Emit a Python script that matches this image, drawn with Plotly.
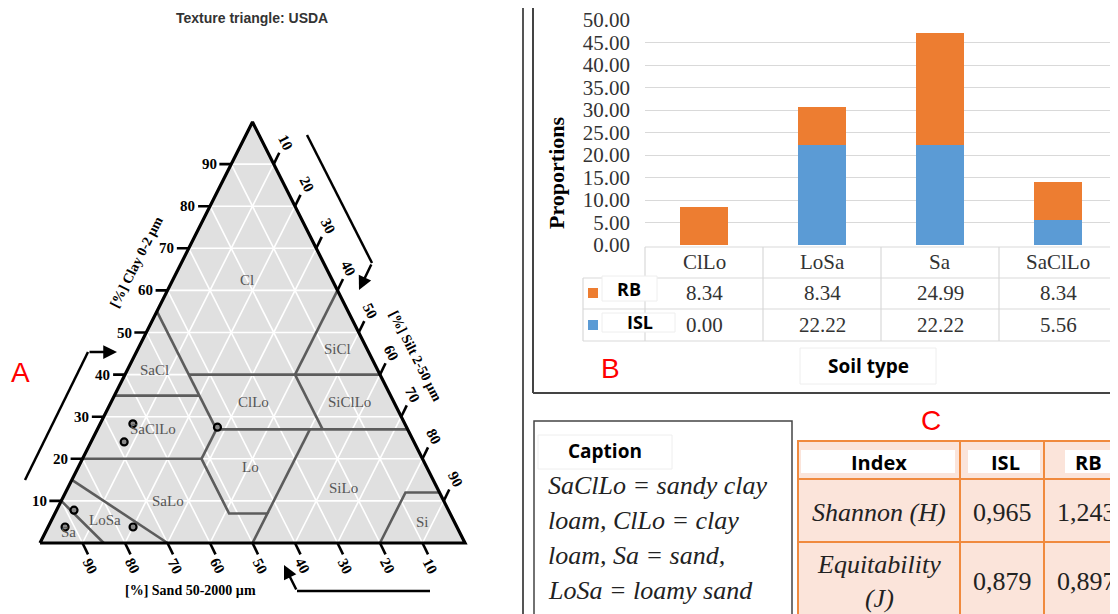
import plotly.graph_objects as go

W, H = 1118, 614
OFF = 8  # default page body margin of the exported html
SERIF = "Liberation Serif, Times New Roman, serif"
SANS = "Open Sans, Liberation Sans, Arial, sans-serif"
NARROW = "Liberation Sans Narrow, Arial Narrow, Liberation Sans, Arial, sans-serif"

# ---------------- Panel A data: USDA texture triangle ----------------
grid_values = [10, 20, 30, 40, 50, 60, 70, 80, 90]
class_names = ["Cl", "SiCl", "SaCl", "ClLo", "SiClLo", "SaClLo", "Lo", "SiLo", "SaLo", "LoSa", "Si", "Sa"]
class_clay = [62.5, 46.0, 41.0, 33.5, 33.5, 27.0, 18.0, 13.0, 10.0, 5.5, 5.0, 2.5]
class_sand = [20.0, 7.0, 52.5, 33.0, 10.5, 60.0, 41.5, 22.0, 65.0, 82.0, 7.5, 92.0]
sample_clay = [28.3, 24.0, 7.8, 3.8, 3.8, 27.5]
sample_sand = [64.0, 68.2, 88.1, 76.2, 92.2, 44.5]
boundary_clay = [[0, 10], [0, 15], [20, 20, 7, 7, 0], [7, 27], [20, 27], [35, 35],
                 [27, 55], [27, 27], [40, 40], [27, 40], [40, 60], [0, 12, 12]]
boundary_sand = [[85, 90], [70, 85], [80, 52, 52, 43, 50], [43, 23], [52, 45], [65, 45],
                 [45, 45], [45, 0], [45, 0], [20, 20], [20, 0], [20, 8, 0]]

# ---------------- Panel B data ----------------
soil_types = ["ClLo", "LoSa", "Sa", "SaClLo"]
rb_values = [8.34, 8.34, 24.99, 8.34]
isl_values = [0.00, 22.22, 22.22, 5.56]

# ---------------- Panel C data ----------------
index_names = ["Shannon (H)", "Equitability<br>(J)"]
isl_index = [0.965, 0.879]
rb_index = [1.243, 0.897]
caption_lines = ["SaClLo = sandy clay", "loam, ClLo = clay", "loam, Sa = sand,", "LoSa = loamy sand"]


def to_xy(clay, sand):
    silt = 100 - clay - sand
    return silt + clay / 2.0, clay


def fx(px):
    return (px - OFF) / W


def fy(py):
    return 1 - (py - OFF) / H


fig = go.Figure()

# ---- triangle fill ----
cx, cy = zip(*[to_xy(c, s) for c, s in [(0, 100), (0, 0), (100, 0), (0, 100)]])
fig.add_trace(go.Scatter(x=cx, y=cy, mode="lines", fill="toself", fillcolor="#e0e0e0",
                         line=dict(width=0), hoverinfo="skip", showlegend=False))

# ---- white grid ----
gx, gy = [], []
for v in grid_values:
    for a, b in [((v, 100 - v), (v, 0)), ((0, v), (100 - v, v)), ((0, 100 - v), (100 - v, 0))]:
        p0, p1 = to_xy(*a), to_xy(*b)
        gx += [p0[0], p1[0], None]
        gy += [p0[1], p1[1], None]
fig.add_trace(go.Scatter(x=gx, y=gy, mode="lines", line=dict(color="white", width=1.6),
                         hoverinfo="skip", showlegend=False))

# ---- class boundaries ----
bx, by = [], []
for cl, sa in zip(boundary_clay, boundary_sand):
    for c, s in zip(cl, sa):
        x, y = to_xy(c, s)
        bx.append(x)
        by.append(y)
    bx.append(None)
    by.append(None)
fig.add_trace(go.Scatter(x=bx, y=by, mode="lines", line=dict(color="#5c5c5c", width=2.6),
                         hoverinfo="skip", showlegend=False))

# ---- border ----
fig.add_trace(go.Scatter(x=cx, y=cy, mode="lines", line=dict(color="black", width=3.2),
                         hoverinfo="skip", showlegend=False))

# ---- ticks ----
tx, ty = [], []
for v in grid_values:
    x, y = to_xy(v, 100 - v)          # left edge (clay)
    tx += [x, x - 2.8, None]; ty += [y, y, None]
    x, y = to_xy(0, v)                # bottom edge (sand)
    tx += [x, x + 1.3, None]; ty += [y, y - 2.7, None]
    x, y = to_xy(100 - v, 0)          # right edge (silt)
    tx += [x, x + 1.3, None]; ty += [y, y + 2.7, None]
fig.add_trace(go.Scatter(x=tx, y=ty, mode="lines", line=dict(color="black", width=2.6),
                         hoverinfo="skip", showlegend=False))

# ---- samples ----
sx_, sy_ = zip(*[to_xy(c, s) for c, s in zip(sample_clay, sample_sand)])
fig.add_trace(go.Scatter(x=sx_, y=sy_, mode="markers",
                         marker=dict(size=7, color="#888888", line=dict(color="black", width=2.2)),
                         hoverinfo="skip", showlegend=False))

annotations = []
tick_font = dict(family=SERIF, size=15, color="black")
for v in grid_values:
    x, y = to_xy(v, 100 - v)
    annotations.append(dict(x=x - 3.0, y=y, xref="x", yref="y", text="<b>%d</b>" % v, showarrow=False,
                            xanchor="right", yanchor="middle", font=tick_font))
    x, y = to_xy(0, v)
    annotations.append(dict(x=x + 1.8, y=y - 5.4, xref="x", yref="y", text="<b>%d</b>" % v, showarrow=False,
                            textangle=63, font=tick_font))
    x, y = to_xy(100 - v, 0)
    annotations.append(dict(x=x + 2.7, y=y + 5.2, xref="x", yref="y", text="<b>%d</b>" % v, showarrow=False,
                            textangle=63, font=tick_font))
for name, c, s in zip(class_names, class_clay, class_sand):
    x, y = to_xy(c, s)
    annotations.append(dict(x=x, y=y, xref="x", yref="y", text=name, showarrow=False,
                            font=dict(family=SERIF, size=15, color="#555555")))

# ---------------- bar chart (panel B) ----------------
fig.add_trace(go.Bar(x=soil_types, y=isl_values, name="ISL", marker=dict(color="#5b9bd5", line=dict(width=0)),
                     width=0.4, xaxis="x2", yaxis="y2", showlegend=False))
fig.add_trace(go.Bar(x=soil_types, y=rb_values, name="RB", marker=dict(color="#ed7d31", line=dict(width=0)),
                     width=0.4, xaxis="x2", yaxis="y2", showlegend=False))

# dummy trace for the pixel overlay axis
fig.add_trace(go.Scatter(x=[None], y=[None], xaxis="x3", yaxis="y3", showlegend=False, hoverinfo="skip"))

shapes = []


def line(x0, y0, x1, y1, color, width):
    shapes.append(dict(type="line", x0=x0, y0=y0, x1=x1, y1=y1, xref="x3", yref="y3",
                       line=dict(color=color, width=width), layer="above"))


def rect(x0, y0, x1, y1, fill, color, width):
    shapes.append(dict(type="rect", x0=x0, y0=y0, x1=x1, y1=y1, xref="x3", yref="y3",
                       fillcolor=fill, line=dict(color=color, width=width), layer="above"))


def text(x, y, s, font, **kw):
    d = dict(x=x, y=y, xref="x3", yref="y3", text=s, showarrow=False, font=font)
    d.update(kw)
    annotations.append(d)


# panel borders
line(523, 0, 523, H + OFF, "#555555", 2)
line(533, 0, 533, 393, "#444444", 2)
line(533, 393, W + OFF, 393, "#444444", 2)

# data table under the bars
BAR_X0 = 645
col_w = 118
grid_c = "#d9d9d9"
line(BAR_X0, 247, W + OFF, 247, grid_c, 1.2)
for yy in (278, 309, 341):
    line(583, yy, W + OFF, yy, grid_c, 1.2)
line(583, 278, 583, 341, grid_c, 1.2)
for i in range(len(soil_types) + 1):
    xx = BAR_X0 + i * col_w
    line(xx, 247, xx, 341, grid_c, 1.2)
val_font = dict(family=SERIF, size=21, color="#333333")
for i, name in enumerate(soil_types):
    xc = BAR_X0 + (i + 0.5) * col_w
    text(xc, 262, name, val_font)
    text(xc, 293, "%.2f" % rb_values[i], val_font)
    text(xc, 325, "%.2f" % isl_values[i], val_font)
# legend keys
rect(588, 288, 598, 298, "#ed7d31", "#ed7d31", 0)
rect(588, 320, 598, 330, "#5b9bd5", "#5b9bd5", 0)
rect(602, 276, 657, 301, "white", "#eeeeee", 1)
rect(602, 313, 675, 332, "white", "#eeeeee", 1)
lab_font = dict(family=SANS, size=18, color="black")
text(629, 289, "<b>RB</b>", lab_font)
text(640, 322, "<b>ISL</b>", lab_font)
# axis titles
rect(800, 348, 936, 384, "white", "#eeeeee", 1)
text(868, 366, "<b>Soil type</b>", dict(family=SANS, size=19, color="black"))
text(556, 173, "<b>Proportions</b>", dict(family=SERIF, size=22, color="black"), textangle=-90)

# red panel letters
red = dict(family="Liberation Sans, Arial, sans-serif", size=28, color="#ff0000")
text(20, 372, "A", red)
text(610, 368, "B", red)
text(931, 420, "C", red)

# caption box
rect(534, 421, 792, 640, "rgba(0,0,0,0)", "#444444", 1.5)
rect(538, 435, 672, 469, "white", "#eeeeee", 1)
text(605, 451, "<b>Caption</b>", dict(family=SANS, size=19, color="black"))
for k, s in enumerate(caption_lines):
    text(546, 485 + 35 * k, "<i>%s</i>" % s, dict(family=SERIF, size=26, color="#222222"), xanchor="left")

# index table (panel C)
orange = "#f08a3e"
rect(798, 441, 1140, 640, "#fbe4da", orange, 2)
line(960, 441, 960, H + OFF, orange, 2)
line(1044, 441, 1044, H + OFF, orange, 2)
line(798, 479, W + OFF, 479, orange, 2)
line(798, 542, W + OFF, 542, orange, 2)
rect(801, 450, 955, 473, "white", "white", 0)
rect(968, 450, 1040, 473, "white", "white", 0)
rect(1065, 450, 1130, 473, "white", "white", 0)
hdr = dict(family=SANS, size=20, color="black")
text(879, 462, "<b>Index</b>", hdr)
text(1005, 462, "<b>ISL</b>", hdr)
text(1088, 462, "<b>RB</b>", hdr)
cell = dict(family=SERIF, size=26, color="#222222")
row_y = [512, 581]
for k in range(len(index_names)):
    text(879, row_y[k], "<i>%s</i>" % index_names[k], cell)
    text(1002, row_y[k], ("%.3f" % isl_index[k]).replace(".", ","), cell)
    text(1086, row_y[k], ("%.3f" % rb_index[k]).replace(".", ","), cell)

# arrows around the triangle
for path in ["M 25 480 L 88 352", "M 307 135 L 372 263", "M 430 591 L 297 591"]:
    shapes.append(dict(type="path", path=path, xref="x3", yref="y3",
                       line=dict(color="black", width=2.5), layer="above"))
for (x0, y0, x1, y1) in [(88, 352, 117, 352), (372, 263, 359, 290), (297, 591, 284, 565)]:
    annotations.append(dict(x=x1, y=y1, ax=x0, ay=y0, xref="x3", yref="y3", axref="x3", ayref="y3",
                            text="", showarrow=True, arrowhead=2, arrowsize=1.1, arrowwidth=2.5,
                            arrowcolor="black"))

# triangle titles
ttl = dict(family=SERIF, size=14, color="black")
text(136, 262, "<b>[%] Clay 0-2 µm</b>", ttl, textangle=-63)
text(416, 356, "<b>[%] Silt 2-50 µm</b>", ttl, textangle=63)
text(190, 590, "<b>[%] Sand 50-2000 µm</b>", ttl)
text(252, 18, "<b>Texture triangle: USDA</b>", dict(family=NARROW, size=14, color="#333333"))

# ---------------- layout ----------------
X0PX, X1PX, Y0PX, Y1PX = 40, 465, 543, 122
sxp = (X1PX - X0PX) / 100.0
syp = (Y0PX - Y1PX) / 100.0
xr = [-7, 108]
yr = [-12, 104]
dom_x = [fx(X0PX + xr[0] * sxp), fx(X0PX + xr[1] * sxp)]
dom_y = [fy(Y0PX - yr[0] * syp), fy(Y0PX - yr[1] * syp)]

fig.update_layout(
    width=W, height=H, margin=dict(l=0, r=0, t=0, b=0, pad=0, autoexpand=False),
    paper_bgcolor="white", plot_bgcolor="rgba(0,0,0,0)",
    barmode="stack", showlegend=False,
    xaxis=dict(domain=dom_x, range=xr, visible=False, fixedrange=True, automargin=False),
    yaxis=dict(domain=dom_y, range=yr, visible=False, fixedrange=True, automargin=False),
    xaxis2=dict(domain=[fx(BAR_X0), fx(BAR_X0 + 4 * col_w)], range=[-0.5, 3.5], type="category",
                showticklabels=False, showgrid=False, zeroline=False, showline=False, anchor="y2",
                automargin=False),
    yaxis2=dict(domain=[fy(245), fy(20)], range=[0, 50], dtick=5, tickformat=".2f",
                gridcolor="#d9d9d9", gridwidth=1.3, zeroline=False, showline=False, ticks="",
                tickfont=dict(family=SERIF, size=21, color="#333333"), ticklabelstandoff=14,
                anchor="x2", automargin=False),
    xaxis3=dict(domain=[0, 1], range=[OFF, W + OFF], visible=False, anchor="y3", automargin=False),
    yaxis3=dict(domain=[0, 1], range=[H + OFF, OFF], visible=False, anchor="x3", automargin=False),
    shapes=shapes, annotations=annotations,
)

fig.write_html("out.html")
